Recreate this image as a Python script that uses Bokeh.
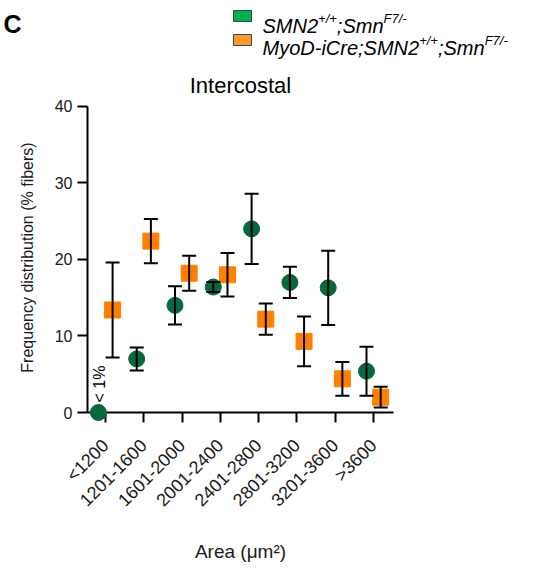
import math
from bokeh.plotting import figure
from bokeh.models import ColumnDataSource, Range1d, FixedTicker, Whisker, TeeHead
from bokeh.embed import file_html
from bokeh.resources import INLINE
from bokeh.core.properties import value

# ---------------- data ----------------
categories = ["<1200", "1201-1600", "1601-2000", "2001-2400",
              "2401-2800", "2801-3200", "3201-3600", ">3600"]
green_mean = [0.0, 7.0, 14.0, 16.4, 24.0, 17.0, 16.3, 5.4]
green_err = [0.0, 1.5, 2.5, 0.65, 4.6, 2.05, 4.85, 3.2]
orange_mean = [13.4, 22.4, 18.2, 18.0, 12.2, 9.3, 4.4, 2.0]
orange_err = [6.2, 2.9, 2.3, 2.85, 2.05, 3.25, 2.2, 1.35]
y_ticks = [0, 10, 20, 30, 40]
legend_parts = [
    [("SMN2", False), ("+/+", True), (";Smn", False), ("F7/-", True)],
    [("MyoD-iCre;SMN2", False), ("+/+", True), (";Smn", False), ("F7/-", True)],
]
small_note = "< 1%"

# ---------------- style / layout ----------------
FONT = "Liberation Sans"
GREEN = "#08673d"
ORANGE = "#ff8000"
GREEN_LEG = "#00b050"
ORANGE_LEG = "#ff9933"
DODGE = 0.185

W, H = 540, 566
FL, FR, FT, FB = 87, 393, 102, 412          # frame edges in canvas px
X0, X1 = -0.47, 7.52
Y0, Y1 = 0.0, 40.52

p = figure(width=W, height=H, x_range=Range1d(X0, X1), y_range=Range1d(Y0, Y1),
           output_backend="svg", toolbar_location=None, title="Intercostal",
           min_border_left=FL, min_border_right=W - FR,
           min_border_top=FT, min_border_bottom=H - FB)
p.title.align = "center"
p.title.text_font = FONT
p.title.text_font_size = "22px"
p.title.text_font_style = "normal"
p.title.text_color = "black"
p.outline_line_color = None
p.grid.visible = False

def px2x(cx):
    return X0 + (cx - FL) * (X1 - X0) / (FR - FL)

def px2y(cy):
    return Y0 + (FB - cy) * (Y1 - Y0) / (FB - FT)

# ---------------- data marks ----------------
xs = list(range(len(categories)))
gx = [i - DODGE for i in xs]
ox = [i + DODGE for i in xs]

p.scatter(x=gx, y=green_mean, marker="circle", size=16, fill_color=GREEN,
          line_color=GREEN, level="overlay")
p.scatter(x=ox, y=orange_mean, marker="square", size=16, fill_color=ORANGE,
          line_color=ORANGE, level="overlay")

def whisk(xv, m, e):
    idx = [i for i in range(len(m)) if e[i] > 0]
    src = ColumnDataSource(dict(x=[xv[i] for i in idx],
                                upper=[m[i] + e[i] for i in idx],
                                lower=[m[i] - e[i] for i in idx]))
    w = Whisker(source=src, base="x", upper="upper", lower="lower",
                line_color="black", line_width=2, level="overlay",
                upper_head=TeeHead(size=14, line_width=2, line_color="black"),
                lower_head=TeeHead(size=14, line_width=2, line_color="black"))
    p.add_layout(w)

whisk(gx, green_mean, green_err)
whisk(ox, orange_mean, orange_err)

p.text(x=[gx[0] + 0.03], y=[1.3], text=[small_note], angle=math.pi / 2,
       text_font=value(FONT), text_font_size="16px", text_color="black",
       text_align="left", text_baseline="middle", level="overlay")

# ---------------- panel letter + legend (outside the frame) ----------------
p.text(x=[px2x(3)], y=[px2y(23)], text=["C"], text_font=value(FONT),
       text_font_size="25px", text_font_style="bold", text_color="black",
       text_baseline="alphabetic", text_align="left", level="overlay")

p.rect(x=[px2x(242), px2x(242)], y=[px2y(15.5), px2y(39.5)], width=18, height=11,
       width_units="screen", height_units="screen",
       fill_color=[GREEN_LEG, ORANGE_LEG], line_color="#444444", line_width=1,
       level="overlay")

ADV = {"S": 667, "M": 833, "N": 722, "2": 556, "+": 584, "/": 278, ";": 278,
       "m": 833, "n": 556, "F": 611, "7": 556, "-": 333, "y": 500, "o": 556,
       "D": 722, "i": 222, "C": 722, "r": 333, "e": 556}
MAIN_FS = 20
SUP_FS = 13
for row, parts in enumerate(legend_parts):
    xx = 262.0
    base = 25 + 22 * row
    for txt, sup in parts:
        fs = SUP_FS if sup else MAIN_FS
        p.text(x=[px2x(xx)], y=[px2y(base - 7 if sup else base)], text=[txt],
               text_font=value(FONT), text_font_size=f"{fs}px",
               text_font_style="italic", text_color="black",
               text_baseline="alphabetic", text_align="left", level="overlay")
        xx += sum(ADV.get(ch, 556) for ch in txt) / 1000.0 * fs

# ---------------- axes ----------------
xa = p.xaxis[0]
ya = p.yaxis[0]
xa.ticker = FixedTicker(ticks=xs)
xa.major_label_overrides = {i: c for i, c in enumerate(categories)}
xa.major_label_orientation = math.pi / 4
xa.axis_label = "Area (\u03bcm\u00b2)"
for ax in (xa, ya):
    ax.axis_line_color = "black"
    ax.axis_line_width = 2
    ax.major_tick_line_color = "black"
    ax.major_tick_line_width = 2
    ax.major_tick_in = 0
    ax.major_tick_out = 10
    ax.minor_tick_line_color = None
    ax.major_label_text_font = FONT
    ax.major_label_text_font_size = "16px"
    ax.major_label_text_color = "#1a1a1a"
    ax.axis_label_text_font = FONT
    ax.axis_label_text_font_style = "normal"
    ax.axis_label_text_color = "#1a1a1a"
xa.major_label_text_font_size = "18px"
xa.major_label_standoff = 20
xa.axis_label_text_font_size = "19px"
xa.axis_label_standoff = 20

ya.ticker = FixedTicker(ticks=y_ticks)
ya.bounds = (0, 40)
ya.axis_label = "Frequency distribution (% fibers)"
ya.axis_label_text_font_size = "16px"
ya.axis_label_standoff = 16

open("out.html", "w").write(file_html(p, INLINE))
